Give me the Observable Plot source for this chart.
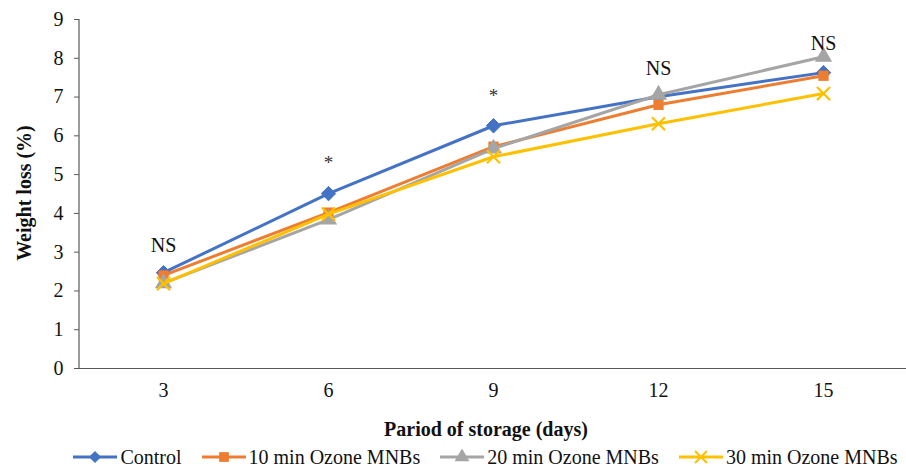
<!DOCTYPE html>
<html><head><meta charset="utf-8">
<script src="https://cdn.jsdelivr.net/npm/d3@7"></script>
<script src="https://cdn.jsdelivr.net/npm/@observablehq/plot@0.6"></script>
<style>
body{margin:0;background:#fff;font-family:"Liberation Serif","Times New Roman",serif;}
#wrap{width:906px;}
#legend{display:flex;justify-content:center;align-items:center;height:34px;font-size:20px;color:#111;gap:19px;margin-left:64px}
.li{display:flex;align-items:center}
.li svg{margin-right:2px}
#chart svg text{font-family:"Liberation Serif","Times New Roman",serif !important;}
</style></head>
<body><div id="wrap"><div id="chart"></div><div id="legend"></div></div>
<script>
const days = [3, 6, 9, 12, 15];
const seriesNames = ["Control", "10 min Ozone MNBs", "20 min Ozone MNBs", "30 min Ozone MNBs"];
const control = [2.47, 4.51, 6.26, 7.01, 7.63];
const ozone10 = [2.40, 4.02, 5.72, 6.80, 7.55];
const ozone20 = [2.20, 3.84, 5.67, 7.06, 8.04];
const ozone30 = [2.19, 3.98, 5.46, 6.31, 7.09];
const annotLabels = ["NS", "*", "*", "NS", "NS"];
const annotY = [3.17, 5.31, 7.04, 7.74, 8.38];
const yTicks = [0, 1, 2, 3, 4, 5, 6, 7, 8, 9];

const colors = ["#4472C4", "#ED7D31", "#A5A5A5", "#FFC000"];
const symbols = ["diamond2", "square", "triangle", "times"];
const allVals = [control, ozone10, ozone20, ozone30];
const rows = [];
allVals.forEach((vals, si) => vals.forEach((v, i) => rows.push({series: seriesNames[si], day: days[i], value: v})));
const annots = days.map((d, i) => ({day: d, y: annotY[i], label: annotLabels[i]}));
const FONT = "'Liberation Serif','Times New Roman',serif";

const marks = [
  Plot.axisY({ticks: yTicks, tickSize: 5, tickPadding: 11, fontSize: 20, label: null, stroke: "#595959", fill: "#111"}),
  Plot.axisX({tickSize: 0, tickPadding: 14, fontSize: 20, label: null, fill: "#111"}),
  Plot.ruleY([0], {stroke: "#595959", strokeWidth: 1.2}),
];
seriesNames.forEach((name, si) => {
  const data = rows.filter(r => r.series === name);
  marks.push(Plot.line(data, {x: "day", y: "value", stroke: colors[si], strokeWidth: 3}));
  if (symbols[si] === "times") {
    marks.push(Plot.dot(data, {x: "day", y: "value", symbol: "times", r: 6, stroke: colors[si], strokeWidth: 2.2}));
  } else if (symbols[si] === "diamond2") {
    marks.push(Plot.dot(data, {x: "day", y: "value", symbol: "diamond2", r: 6.5, fill: colors[si], stroke: colors[si], strokeWidth: 1}));
  } else if (symbols[si] === "square") {
    marks.push(Plot.dot(data, {x: "day", y: "value", symbol: "square", r: 5.8, fill: colors[si], stroke: "none"}));
  } else {
    marks.push(Plot.dot(data, {x: "day", y: "value", symbol: "triangle", r: 6.4, fill: colors[si], stroke: "none"}));
  }
});
marks.push(Plot.text(annots, {x: "day", y: "y", text: "label",
  fontSize: d => d.label === "*" ? 19 : 20, fill: d => d.label === "*" ? "#333" : "#111"}));

const chart = Plot.plot({
  width: 906, height: 440,
  marginLeft: 79, marginRight: 0, marginTop: 19, marginBottom: 72,
  style: "font-family: 'Liberation Serif','Times New Roman',serif; font-size: 20px; background: #fff; overflow: visible;",
  x: {type: "point", domain: days, padding: 0.5, align: 0.5},
  y: {domain: [0, 9]},
  marks
});
const svg = d3.select(chart);
svg.append("line").attr("x1", 79).attr("x2", 79).attr("y1", 19).attr("y2", 368).attr("stroke", "#595959").attr("stroke-width", 1.2);
svg.append("text").attr("x", 486).attr("y", 436).attr("text-anchor", "middle")
  .attr("font-weight", "bold").attr("font-size", 20).attr("fill", "#111").text("Pariod of storage (days)");
svg.append("text").attr("transform", "translate(31,193) rotate(-90)").attr("text-anchor", "middle")
  .attr("font-weight", "bold").attr("font-size", 20).attr("fill", "#111").text("Weight loss (%)");
svg.selectAll("text").attr("font-family", FONT);
document.getElementById("chart").appendChild(chart);

const leg = document.getElementById("legend");
seriesNames.forEach((name, si) => {
  const item = document.createElement("div");
  item.className = "li";
  const s = d3.create("svg").attr("width", 46).attr("height", 16);
  s.append("line").attr("x1", 1).attr("x2", 45).attr("y1", 8).attr("y2", 8).attr("stroke", colors[si]).attr("stroke-width", 3);
  const sym = {diamond2: d3.symbolDiamond2, square: d3.symbolSquare, triangle: d3.symbolTriangle, times: d3.symbolTimes}[symbols[si]];
  const p = s.append("path").attr("transform", "translate(23,8)").attr("d", d3.symbol(sym, 95)());
  if (symbols[si] === "times") p.attr("fill", "none").attr("stroke", colors[si]).attr("stroke-width", 2);
  else p.attr("fill", colors[si]);
  item.appendChild(s.node());
  const t = document.createElement("span");
  t.textContent = name;
  item.appendChild(t);
  leg.appendChild(item);
});
</script></body></html>
